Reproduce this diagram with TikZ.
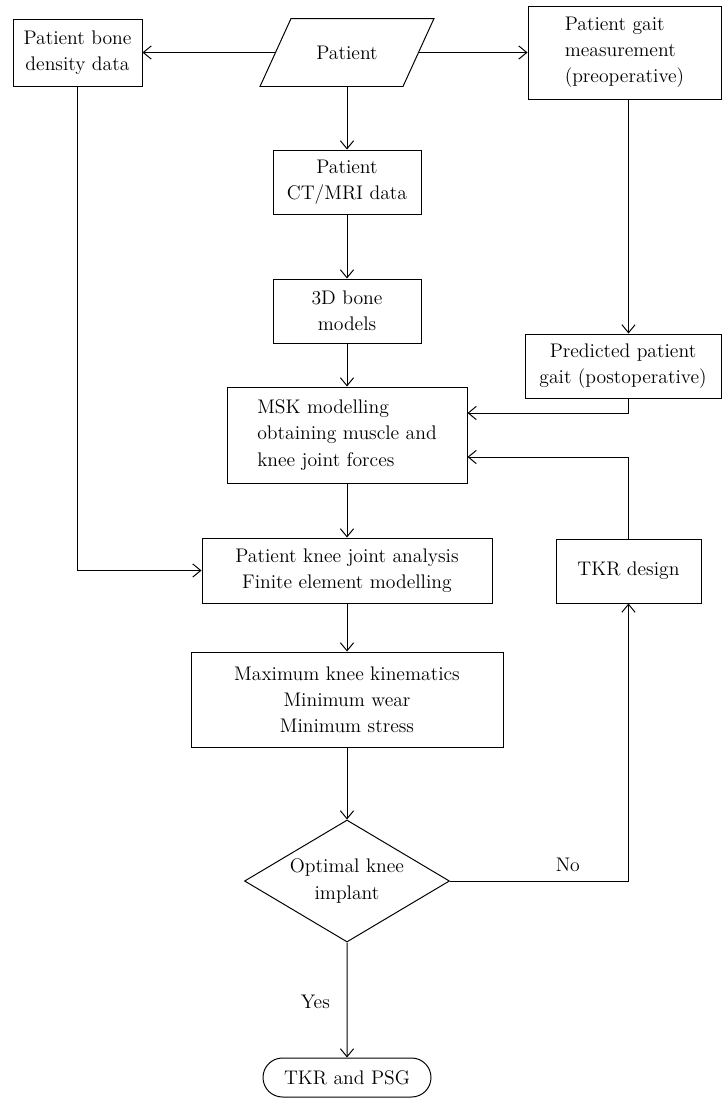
\documentclass[tikz,border=0pt]{standalone}
\usetikzlibrary{shapes.geometric,shapes.misc,arrows.meta,calc}
\newcommand{\unitpx}{0.025cm}
\begin{document}
\begin{tikzpicture}[x=0.025cm,y=-0.025cm,line width=0.7pt,font=\fontsize{14}{18.6}\selectfont,
  box/.style={draw,align=center,inner sep=0pt},
  arr/.style={-{Straight Barb[length=0.2cm,width=0.33cm]}}]
  \useasboundingbox (0,0) rectangle (722,1098);
  % top row
  \node[box, minimum width=129*\unitpx, minimum height=67*\unitpx] (bone) at (77.5,52.5) {Patient bone\\density data};
  \node[inner sep=0pt, minimum width=142*\unitpx, minimum height=67*\unitpx] (patient) at (347,52.5) {Patient};
  \draw ($(patient.south west)+(-15.5,0)$) -- ($(patient.south east)+(-15.5,0)$)
    -- ($(patient.north east)+(15.5,0)$) -- ($(patient.north west)+(15.5,0)$) -- cycle;
  \node[box, align=left, minimum width=193*\unitpx, minimum height=93*\unitpx] (gait) at (624.5,52.5) {Patient gait\\measurement\\(preoperative)};
  % middle column
  \node[box, minimum width=148*\unitpx, minimum height=64*\unitpx] (ct) at (347,182) {Patient\\CT/MRI data};
  \node[box, minimum width=148*\unitpx, minimum height=64*\unitpx] (bones3d) at (347,311) {3D bone\\models};
  \node[box, align=left, minimum width=240*\unitpx, minimum height=96*\unitpx] (msk) at (347,435) {MSK modelling\\obtaining muscle and\\knee joint forces};
  \node[box, minimum width=290*\unitpx, minimum height=65*\unitpx] (knee) at (347,570.5) {Patient knee joint analysis\\Finite element modelling};
  \node[box, minimum width=312*\unitpx, minimum height=95*\unitpx] (maxkin) at (347,699.5) {Maximum knee kinematics\\Minimum wear\\Minimum stress};
  \node[draw, diamond, aspect=1.68, inner sep=0pt, align=center,
    minimum width=205*\unitpx, minimum height=122*\unitpx] (optimal) at (347,881) {Optimal knee\\implant};
  \node[draw, rounded rectangle, minimum width=168*\unitpx, minimum height=39*\unitpx, inner sep=0pt] (result) at (347,1077.5) {TKR and PSG};
  % right column
  \node[box, minimum width=196*\unitpx, minimum height=64*\unitpx] (pred) at (623,366) {Predicted patient\\gait (postoperative)};
  \node[box, minimum width=145*\unitpx, minimum height=64*\unitpx] (tkr) at (628.5,571) {TKR design};

  \draw[arr] (patient) -- (bone);
  \draw[arr] (patient) -- (gait);
  \draw[arr] (patient) -- (ct);
  \draw[arr] (ct) -- (bones3d);
  \draw[arr] (bones3d) -- (msk);
  \draw[arr] (gait.south -| tkr.north) -- (pred.north -| tkr.north);
  \draw[arr] (pred.south -| tkr.north) |- ([yshift=0.55cm]msk.east);
  \draw[arr] (tkr) |- ([yshift=-0.55cm]msk.east);
  \draw[arr] (msk) -- (knee);
  \draw[arr] (bone) |- (knee);
  \draw[arr] (knee) -- (maxkin);
  \draw[arr] (maxkin) -- (optimal);
  \draw[arr] (optimal) -- node[left, pos=0.52, xshift=-0.3cm] {Yes} (result);
  \draw[arr] (optimal) -| node[above, pos=0.33, yshift=0.1cm] {No} (tkr);
\end{tikzpicture}
\end{document}
